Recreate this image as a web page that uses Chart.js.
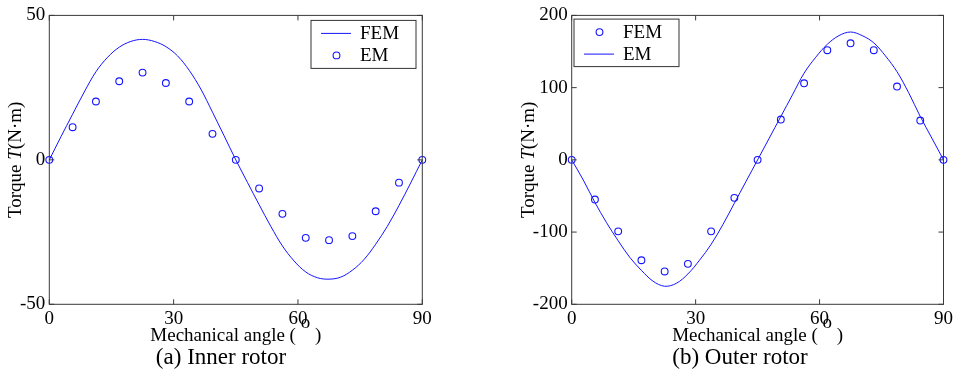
<!DOCTYPE html>
<html>
<head>
<meta charset="utf-8">
<script src="https://cdn.jsdelivr.net/npm/chart.js@4.4.1/dist/chart.umd.min.js"></script>
<style>
  body { margin: 0; background: #fff; }
  #wrap { position: relative; width: 956px; height: 374px; overflow: hidden; }
  .panel { position: absolute; top: 0; width: 478px; height: 374px; }
  .caption {
    position: absolute; top: 344px; line-height: 26px; text-align: center;
    font-family: 'Liberation Serif', 'Times New Roman', serif; font-size: 23px;
    color: #000; white-space: nowrap;
  }
</style>
</head>
<body>
<div id="wrap">
  <div class="panel" style="left:0"><canvas id="inner" width="478" height="374"></canvas></div>
  <div class="panel" style="left:478px"><canvas id="outer" width="478" height="374"></canvas></div>
  <div class="caption" style="left:0;width:442px">(a) Inner rotor</div>
  <div class="caption" style="left:478px;width:524px">(b) Outer rotor</div>
</div>
<script>
// angles (mechanical, degrees)
const angleCurve = [0, 2.8125, 5.625, 8.4375, 11.25, 14.0625, 16.875, 19.6875, 22.5, 25.3125, 28.125,
  30.9375, 33.75, 36.5625, 39.375, 42.1875, 45, 47.8125, 50.625, 53.4375, 56.25, 59.0625, 61.875,
  64.6875, 67.5, 70.3125, 73.125, 75.9375, 78.75, 81.5625, 84.375, 87.1875, 90];
const angleMarks = [0, 5.625, 11.25, 16.875, 22.5, 28.125, 33.75, 39.375, 45, 50.625, 56.25,
  61.875, 67.5, 73.125, 78.75, 84.375, 90];

// (a) inner rotor: FEM = line, EM = circles
const innerFEM = [0, 8, 15.8, 23.5, 30.5, 35.5, 39, 41, 41.7, 41, 39.2, 36, 31, 24.5, 16.5, 8.3, 0,
  -7.8, -15.5, -23, -29.8, -35, -38.8, -40.8, -41.3, -40.6, -38.2, -34.5, -29.2, -23, -15.8, -8, 0];
const innerEM = [0, 11.3, 20.2, 27.2, 30.2, 26.6, 20.2, 9, 0, -9.9, -18.7, -27, -27.8, -26.4, -17.8, -7.9, 0];

// (b) outer rotor: FEM = circles, EM = line
const outerFEM = [0, -55, -99, -139, -154.5, -144, -99, -52.6, 0, 55.8, 106, 151.8, 161.4, 151.8, 101.5, 54.4, 0];
const outerEM = [0, -28, -59, -87, -112, -135, -153, -168, -175, -171, -158, -139, -117, -90, -60, -30, 0,
  30, 60, 90, 120, 142, 160, 172, 177, 172, 162, 144, 122, 93, 60, 30, 0];

const innerTicksY = [-50, 0, 50];
const outerTicksY = [-200, -100, 0, 100, 200];
const ticksX = [0, 30, 60, 90];

const FONT = "'Liberation Serif', 'Times New Roman', serif";
const BLUE = '#1414ff';

const pairs = (xs, ys) => xs.map((x, i) => ({ x: x, y: ys[i] }));

const lineSet = (label, xs, ys) => ({
  label, data: pairs(xs, ys), borderColor: BLUE, borderWidth: 1, pointRadius: 0,
  tension: 0.35, fill: false, clip: false
});
const markSet = (label, xs, ys) => ({
  label, data: pairs(xs, ys), showLine: false, pointRadius: 3.4, pointBorderWidth: 1.1,
  pointBorderColor: BLUE, pointBackgroundColor: 'rgba(0,0,0,0)', clip: false
});

// draws a row of [text, fontPrefix, dy] pieces centred on x
function drawPieces(ctx, parts, x0) {
  let total = 0;
  parts.forEach(p => { ctx.font = p[1] + '19px ' + FONT; total += ctx.measureText(p[0]).width; });
  let x = x0 - total / 2;
  parts.forEach(p => {
    ctx.font = p[1] + '19px ' + FONT;
    ctx.fillText(p[0], x, p[2] || 0);
    x += ctx.measureText(p[0]).width;
  });
}

// box, inward ticks, legend and axis titles, drawn like the matlab figure
const paperPlugin = {
  id: 'paper',
  afterDraw(chart, args, opts) {
    const { ctx, chartArea: a, scales } = chart;
    ctx.save();
    ctx.strokeStyle = '#3a3a3a';
    ctx.lineWidth = 1;
    ctx.strokeRect(a.left, a.top, a.width, a.height);
    ctx.beginPath();
    scales.x.ticks.forEach(t => {
      const px = scales.x.getPixelForValue(t.value);
      ctx.moveTo(px, a.bottom); ctx.lineTo(px, a.bottom - 5);
      ctx.moveTo(px, a.top); ctx.lineTo(px, a.top + 5);
    });
    scales.y.ticks.forEach(t => {
      const py = scales.y.getPixelForValue(t.value);
      ctx.moveTo(a.left, py); ctx.lineTo(a.left + 5, py);
      ctx.moveTo(a.right, py); ctx.lineTo(a.right - 5, py);
    });
    ctx.stroke();

    // legend
    const L = opts.legend;
    const bx = L.side === 'right' ? a.right - L.inset - L.w : a.left + L.inset;
    const by = a.top + L.top;
    ctx.fillStyle = '#fff';
    ctx.fillRect(bx, by, L.w, L.h);
    ctx.strokeStyle = '#333';
    ctx.strokeRect(bx, by, L.w, L.h);
    ctx.font = '19px ' + FONT;
    ctx.textBaseline = 'middle';
    ctx.textAlign = 'left';
    L.items.forEach((it, i) => {
      const cy = by + 13 + i * 22;
      ctx.strokeStyle = BLUE;
      ctx.lineWidth = it.kind === 'line' ? 1 : 1.1;
      ctx.beginPath();
      if (it.kind === 'line') {
        ctx.moveTo(bx + 10, cy); ctx.lineTo(bx + 40, cy);
      } else {
        ctx.arc(bx + 25.5, cy, 3.4, 0, Math.PI * 2);
      }
      ctx.stroke();
      ctx.fillStyle = '#000';
      ctx.fillText(it.label, bx + 49, cy + 1);
    });

    // x title, the degree mark is a raised o
    ctx.fillStyle = '#000';
    ctx.textBaseline = 'alphabetic';
    ctx.save();
    ctx.translate(0, a.bottom + 36.5);
    drawPieces(ctx, [['Mechanical angle ( ', ''], ['o', '', -13], [' )', '']], (a.left + a.right) / 2);
    ctx.restore();

    // y title with italic T
    ctx.textBaseline = 'middle';
    ctx.translate(opts.yTitleX, (a.top + a.bottom) / 2);
    ctx.rotate(-Math.PI / 2);
    drawPieces(ctx, [['Torque ', ''], ['T', 'italic '], ['(N·m)', '']], 0);
    ctx.restore();
  }
};

function makeChart(id, cfg) {
  return new Chart(document.getElementById(id), {
    type: 'line',
    data: { datasets: cfg.datasets },
    options: {
      responsive: false,
      animation: false,
      devicePixelRatio: 1,
      layout: { padding: { left: 0, top: cfg.top, right: cfg.right, bottom: 0 } },
      scales: {
        x: {
          type: 'linear', min: 0, max: 90,
          afterBuildTicks: s => { s.ticks = ticksX.map(v => ({ value: v })); },
          afterFit: s => { s.height = 374 - cfg.bottom; },
          grid: { display: false, drawTicks: false },
          border: { display: false },
          ticks: { padding: 3, color: '#000', font: { family: FONT, size: 19 }, maxRotation: 0 },
          title: { display: false }
        },
        y: {
          type: 'linear', min: cfg.yTicks[0], max: cfg.yTicks[cfg.yTicks.length - 1],
          afterBuildTicks: s => { s.ticks = cfg.yTicks.map(v => ({ value: v })); },
          afterFit: s => { s.width = cfg.left; },
          grid: { display: false, drawTicks: false },
          border: { display: false },
          ticks: { padding: 4, color: '#000', font: { family: FONT, size: 19 } }
        }
      },
      plugins: {
        legend: { display: false },
        tooltip: { enabled: false },
        paper: { legend: cfg.legend, yTitleX: cfg.yTitleX }
      }
    },
    plugins: [paperPlugin]
  });
}

makeChart('inner', {
  left: 49.3, right: 478 - 422.3, top: 12.7, bottom: 304.3, yTicks: innerTicksY, yTitleX: 16,
  datasets: [lineSet('FEM', angleCurve, innerFEM), markSet('EM', angleMarks, innerEM)],
  legend: { side: 'right', inset: 6.3, top: 5, w: 105, h: 48,
    items: [{ label: 'FEM', kind: 'line' }, { label: 'EM', kind: 'mark' }] }
});

makeChart('outer', {
  left: 93.7, right: 478 - 466.7, top: 12.3, bottom: 304.3, yTicks: outerTicksY, yTitleX: 51,
  datasets: [markSet('FEM', angleMarks, outerFEM), lineSet('EM', angleCurve, outerEM)],
  legend: { side: 'left', inset: 2.3, top: 3.7, w: 105, h: 47.5,
    items: [{ label: 'FEM', kind: 'mark' }, { label: 'EM', kind: 'line' }] }
});
</script>
</body>
</html>
